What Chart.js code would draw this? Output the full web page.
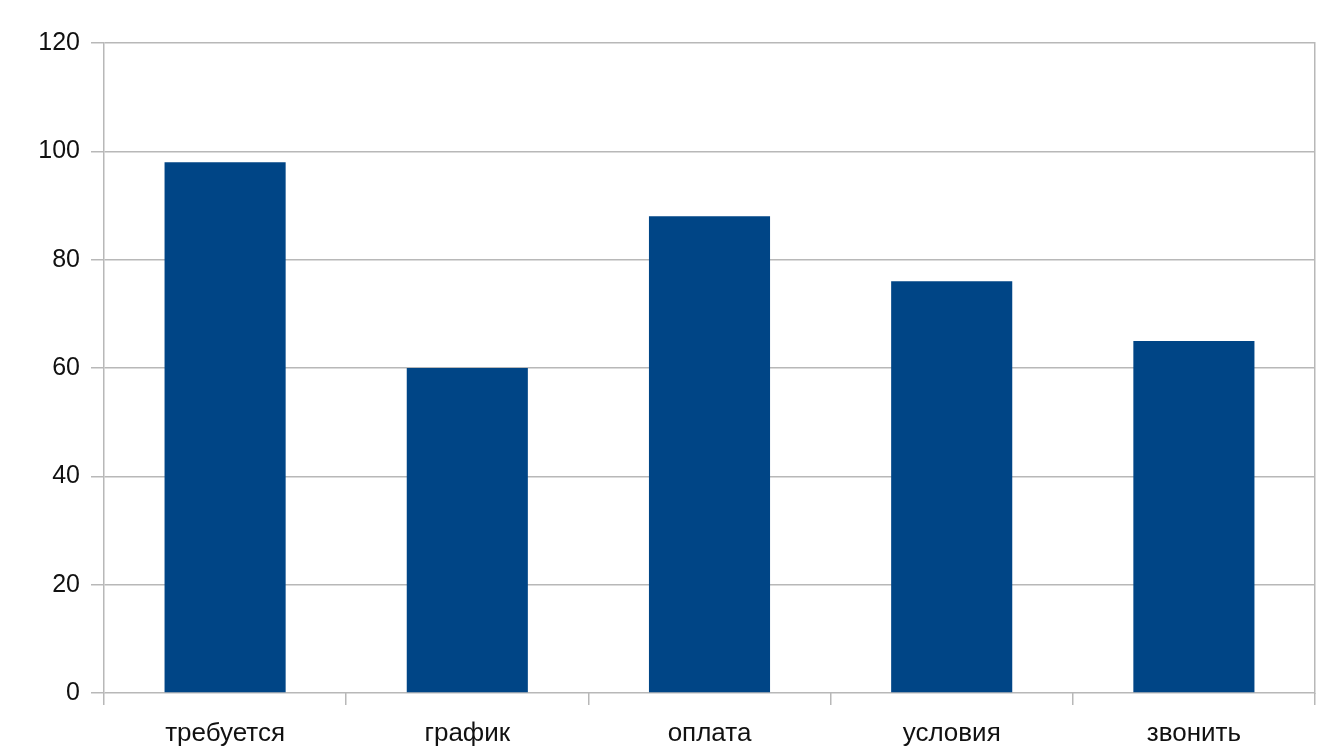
<!DOCTYPE html>
<html>
<head>
<meta charset="utf-8">
<script src="https://cdn.jsdelivr.net/npm/chart.js@4.4.0/dist/chart.umd.min.js"></script>
<style>
  html, body { margin: 0; padding: 0; background: #fff; }
  #wrap { width: 1332px; height: 753px; }
</style>
</head>
<body>
<div id="wrap"><canvas id="chart" width="1332" height="753"></canvas></div>
<script>
// данные с картинки
const categories = ['требуется', 'график', 'оплата', 'условия', 'звонить'];
const values = [98, 60, 88, 76, 65];
const yTicks = [0, 20, 40, 60, 80, 100, 120];

const gridGray = '#b8b8b8';
const barBlue = '#004586';
const textColor = '#111';
const fontFamily = 'Liberation Sans, Arial, sans-serif';

const ctx = document.getElementById('chart').getContext('2d');

new Chart(ctx, {
    type: 'bar',
    data: {
        labels: categories,
        datasets: [{
            data: values,
            backgroundColor: barBlue,
            borderWidth: 0,
            categoryPercentage: 1,
            barPercentage: 0.5
        }]
    },
    options: {
        responsive: false,
        animation: false,
        devicePixelRatio: 1,
        layout: { padding: { left: 0, right: 17, top: 43, bottom: 0 } },
        plugins: {
            legend: { display: false },
            tooltip: { enabled: false }
        },
        scales: {
            x: {
                offset: true,
                grid: {
                    offset: true,
                    lineWidth: 1.5,
                    drawOnChartArea: false,
                    tickColor: gridGray,
                    tickLength: 12
                },
                border: { display: false },
                ticks: {
                    color: textColor,
                    padding: 13,
                    font: { family: fontFamily, size: 26 }
                },
                afterFit: scale => { scale.height = 60; }
            },
            y: {
                min: 0,
                max: 120,
                afterBuildTicks: scale => {
                    scale.ticks = yTicks.map(v => ({ value: v }));
                },
                grid: {
                    color: gridGray,
                    lineWidth: 1.5,
                    tickLength: 13
                },
                border: { display: true, color: gridGray, width: 1.5 },
                ticks: {
                    color: textColor,
                    padding: 11,
                    font: { family: fontFamily, size: 25 }
                },
                afterFit: scale => { scale.width = 104; }
            },
            // правая рамка области графика
            yRight: {
                position: 'right',
                min: 0,
                max: 120,
                grid: { display: false },
                ticks: { display: false },
                border: { display: true, color: gridGray, width: 1.5 },
                afterFit: scale => { scale.width = 0; }
            }
        }
    }
});
</script>
</body>
</html>
